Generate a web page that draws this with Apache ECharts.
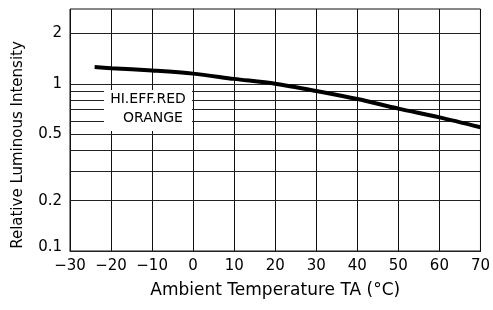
<!DOCTYPE html>
<html>
<head>
<meta charset="utf-8">
<script src="https://cdn.jsdelivr.net/npm/echarts@6/dist/echarts.min.js"></script>
<style>
  html, body { margin: 0; padding: 0; background: #fff; }
  #chart { width: 493px; height: 310px; }
</style>
</head>
<body>
<div id="chart"></div>
<script>
// curve
const temps = [-24, -20, -10, 0, 10, 20, 30, 40, 50, 60, 70]
const intensity = [1.26, 1.24, 1.2, 1.15, 1.07, 1.0, 0.905, 0.81, 0.71, 0.63, 0.55]
// horizontal grid lines and the ones that carry a label
const gridValues = [0.1, 0.2, 0.3, 0.4, 0.5, 0.6, 0.7, 0.8, 0.9, 1, 2]
const labelValues = [0.1, 0.2, 0.5, 1, 2]
const xTicks = [-30, -20, -10, 0, 10, 20, 30, 40, 50, 60, 70]

const font = 'DejaVu Sans'
const chart = echarts.init(document.getElementById('chart'), null, { renderer: 'canvas' })

const option = {
  animation: false,
  backgroundColor: '#fff',
  grid: {
    left: 70,
    right: 9,
    top: 9,
    bottom: 59,
    show: true,
    borderColor: '#111',
    borderWidth: 1
  },
  xAxis: {
    type: 'value',
    min: xTicks[0],
    max: xTicks[xTicks.length - 1],
    interval: 10,
    name: 'Ambient Temperature TA (°C)',
    nameLocation: 'middle',
    nameGap: 31,
    nameTextStyle: { color: '#000', fontSize: 17, fontFamily: font },
    axisLine: { show: true, lineStyle: { color: '#111', width: 1 } },
    axisTick: { show: false },
    axisLabel: {
      color: '#000',
      fontSize: 15,
      fontFamily: font,
      margin: 8,
      formatter: v => (v < 0 ? '\u2212' + Math.abs(v) : String(v))
    },
    splitLine: { show: true, lineStyle: { color: '#111', width: 1 } }
  },
  yAxis: {
    type: 'log',
    logBase: 10,
    min: 0.1,
    max: 2.8,
    name: 'Relative Luminous Intensity',
    nameLocation: 'middle',
    nameGap: 44,
    nameTextStyle: {
      color: '#000',
      fontSize: 15,
      fontFamily: font,
      padding: [0, 30, 0, 0]
    },
    axisLine: { show: true, lineStyle: { color: '#111', width: 1 } },
    axisTick: { show: false },
    axisLabel: { show: false },
    splitLine: { show: false }
  },
  series: [
    {
      type: 'line',
      data: temps.map((t, i) => [t, intensity[i]]),
      smooth: 0.3,
      showSymbol: false,
      lineStyle: { color: '#000', width: 4 },
      z: 5,
      markLine: {
        silent: true,
        symbol: ['none', 'none'],
        animation: false,
        lineStyle: { color: '#222', width: 1, type: 'solid' },
        data: gridValues.map(v => ({
          yAxis: v,
          label: {
            show: labelValues.includes(v),
            position: 'start',
            distance: 8,
            color: '#000',
            fontSize: 15,
            fontFamily: font,
            offset: v === 0.1 ? [0, -4] : [0, 0],
            formatter: String(v)
          }
        }))
      }
    }
  ],
  graphic: [
    {
      type: 'rect',
      z: 100,
      shape: { x: 104, y: 90, width: 88, height: 41 },
      style: { fill: '#fff' }
    },
    {
      type: 'text',
      z: 101,
      x: 148,
      y: 99,
      style: {
        text: 'HI.EFF.RED',
        fill: '#000',
        font: '14px "DejaVu Sans"',
        textAlign: 'center',
        textVerticalAlign: 'middle'
      }
    },
    {
      type: 'text',
      z: 101,
      x: 153,
      y: 118,
      style: {
        text: 'ORANGE',
        fill: '#000',
        font: '14px "DejaVu Sans"',
        textAlign: 'center',
        textVerticalAlign: 'middle'
      }
    }
  ]
}
chart.setOption(option)
</script>
</body>
</html>
